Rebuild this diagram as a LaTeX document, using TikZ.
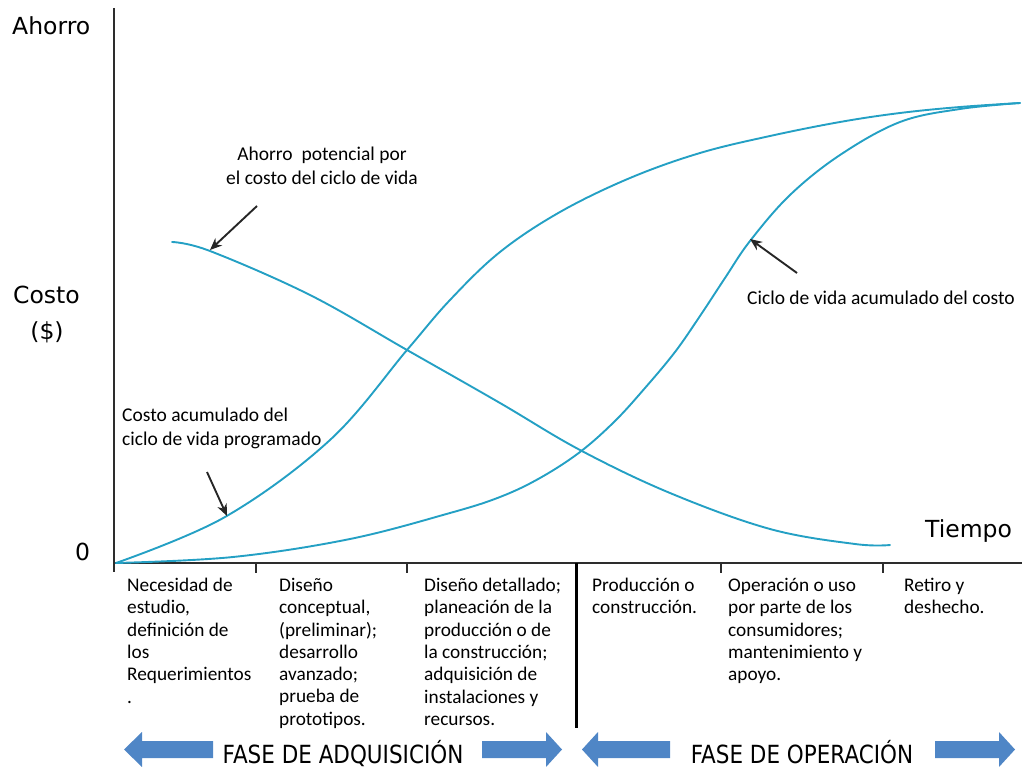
\documentclass[tikz,border=0pt]{standalone}
\usepackage{fontspec}
\setmainfont{Carlito}
\newfontfamily\labelfont{DejaVu Sans}
\newfontfamily\phasefont[FakeStretch=0.86]{DejaVu Sans}
\usetikzlibrary{arrows.meta}
\definecolor{curve}{RGB}{36,160,196}
\definecolor{phase}{RGB}{79,134,198}
\definecolor{axis}{RGB}{45,45,45}

\begin{document}
\begin{tikzpicture}[x=1pt,y=-1pt,
  curveline/.style={draw=curve,line width=1.9pt,line join=round,line cap=round},
  axisline/.style={draw=axis,line width=2.6pt},
  tickline/.style={draw=axis,line width=2pt},
  pointer/.style={draw=black!85,line width=1.9pt,-{Stealth[length=12pt,width=10pt]}},
  axlabel/.style={font=\labelfont\fontsize{23.5}{26}\selectfont,inner sep=0pt},
  note/.style={font=\fontsize{19.5}{24}\selectfont,inner sep=0pt},
  stage/.style={font=\fontsize{19.3}{22.3}\selectfont,align=left,inner sep=0pt,anchor=north west},
  phaselabel/.style={font=\phasefont\fontsize{25}{28}\selectfont,inner sep=0pt},
  blockarrow/.style={fill=phase}]
\useasboundingbox (0,0) rectangle (1028,767);

% axes and stage ticks
\coordinate (ytop) at (114,8);
\coordinate (ybot) at (114,572);
\coordinate (xstart) at (113,563);
\coordinate (xend) at (1022,563);
\draw[axisline] (ytop) -- (ybot);
\draw[axisline] (xstart) -- (xend);
\foreach \tx in {256,407,721,883}
  \draw[tickline] (\tx,563) -- (\tx,573);
\draw[draw=black,line width=3pt] (576,563) -- (576,728);

% axis labels
\node[axlabel,anchor=base west] (lahorro) at (12,35) {Ahorro};
\node[axlabel,anchor=base west] (lcosto) at (13,304) {Costo};
\node[axlabel,anchor=base] (lunit) at (47,339) {(\$)};
\node[axlabel,anchor=base west] (lzero) at (75,560) {0};
\node[axlabel,anchor=base west] (ltiempo) at (925,537) {Tiempo};

% cost and savings curves
\draw[curveline] plot[smooth,tension=0.6] coordinates {
  (116,563) (225,517) (330,440) (407,350) (450,300) (500,252) (560,212)
  (630,178) (700,153) (770,136) (840,122) (900,113) (960,107) (1020,103)};
\draw[curveline] plot[smooth,tension=0.6] coordinates {
  (116,563) (233,557) (350,539) (450,513) (500,497) (540,478) (580,452)
  (615,421) (645,388) (675,352) (700,316) (725,278) (750,241) (790,195)
  (840,155) (900,122) (960,109) (1020,103)};
\draw[curveline] plot[smooth,tension=0.6] coordinates {
  (172,242) (210,251) (310,295) (407,350) (500,403) (580,450)
  (670,493) (770,529) (855,544) (890,545)};

% annotations
\node[note,align=center,anchor=north] (nsave) at (322,147)
  {Ahorro \ potencial por\\el costo del ciclo de vida};
\coordinate (psave) at (257,206);
\coordinate (csave) at (210,250);
\draw[pointer] (psave) -- (csave);

\node[note,align=left,anchor=north west] (nplan) at (122,408)
  {Costo acumulado del\\ciclo de vida programado};
\coordinate (pplan) at (207,472);
\coordinate (cplan) at (227,516);
\draw[pointer] (pplan) -- (cplan);

\node[note,anchor=base west] (nreal) at (747,305)
  {Ciclo de vida acumulado del costo};
\coordinate (preal) at (797,273);
\coordinate (creal) at (750,239);
\draw[pointer] (preal) -- (creal);

% life-cycle stages
\node[stage] (s1) at (127,578) {Necesidad de\\estudio,\\definición de\\los\\Requerimientos\\.};
\node[stage] (s2) at (279,578) {Diseño\\conceptual,\\(preliminar);\\desarrollo\\avanzado;\\prueba de\\prototipos.};
\node[stage] (s3) at (424,578) {Diseño detallado;\\planeación de la\\producción o de\\la construcción;\\adquisición de\\instalaciones y\\recursos.};
\node[stage] (s4) at (592,578) {Producción o\\construcción.};
\node[stage] (s5) at (728,578) {Operación o uso\\por parte de los\\consumidores;\\mantenimiento y\\apoyo.};
\node[stage] (s6) at (904,578) {Retiro y\\deshecho.};

% phase banners
\fill[blockarrow] (124,749.5) -- (142,732) -- (142,741) -- (213,741) -- (213,758) -- (142,758) -- (142,767) -- cycle;
\fill[blockarrow] (562,749.5) -- (546,732) -- (546,741) -- (482,741) -- (482,758) -- (546,758) -- (546,767) -- cycle;
\fill[blockarrow] (582,749.5) -- (598,732) -- (598,741) -- (670,741) -- (670,758) -- (598,758) -- (598,767) -- cycle;
\fill[blockarrow] (1015,749.5) -- (999,732) -- (999,741) -- (935,741) -- (935,758) -- (999,758) -- (999,767) -- cycle;
\node[phaselabel,anchor=base] (fadq) at (343,763) {FASE DE ADQUISICIÓN};
\node[phaselabel,anchor=base] (fop) at (802,763) {FASE DE OPERACIÓN};
\end{tikzpicture}
\end{document}
